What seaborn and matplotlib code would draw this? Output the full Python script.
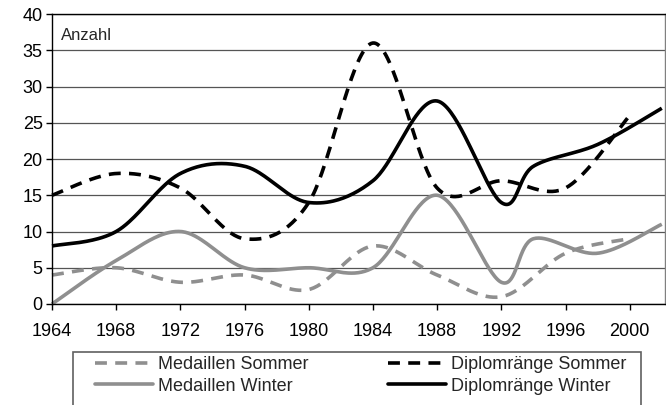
import numpy as np
import pandas as pd
import matplotlib
matplotlib.use("Agg")
import matplotlib.pyplot as plt
import seaborn as sns
from matplotlib.lines import Line2D
from matplotlib.patches import Rectangle

# ---- data (values at Olympic years) ----
summer_years = [1964, 1968, 1972, 1976, 1980, 1984, 1988, 1992, 1996, 2000]
winter_years = [1964, 1968, 1972, 1976, 1980, 1984, 1988, 1992, 1994, 1998, 2002]
medaillen_sommer = [4, 5, 3, 4, 2, 8, 4, 1, 7, 9]
diplom_sommer = [15, 18, 16, 9, 14, 36, 16, 17, 16, 26]
medaillen_winter = [0, 6, 10, 5, 5, 5, 15, 3, 9, 7, 11]
diplom_winter = [8, 10, 18, 19, 14, 17, 28, 14, 19, 22, 27]

x_ticks = list(range(1964, 2001, 4))
y_ticks = list(range(0, 41, 5))
labels = ["Medaillen Sommer", "Medaillen Winter", "Diplomränge Sommer", "Diplomränge Winter"]


def smooth(xs, ys, n=40):
    """Excel-style smoothed line (uniform Catmull-Rom / Bezier)."""
    P = np.column_stack([xs, ys]).astype(float)
    P = np.vstack([P[0], P, P[-1]])
    out = []
    t = np.linspace(0, 1, n)
    for i in range(1, len(P) - 2):
        p0, p1, p2, p3 = P[i - 1], P[i], P[i + 1], P[i + 2]
        c1 = p1 + (p2 - p0) / 6
        c2 = p2 - (p3 - p1) / 6
        seg = ((1 - t) ** 3)[:, None] * p1 + (3 * (1 - t) ** 2 * t)[:, None] * c1 \
            + (3 * (1 - t) * t ** 2)[:, None] * c2 + (t ** 3)[:, None] * p2
        out.append(seg if i == 1 else seg[1:])
    a = np.vstack(out)
    return a[:, 0], a[:, 1]


sns.set_style("white")
plt.rcParams["font.family"] = ["Liberation Sans", "DejaVu Sans"]

W, H = 666, 405
fig = plt.figure(figsize=(W / 100, H / 100), dpi=100)
ax = fig.add_axes([52 / W, 1 - 304 / H, 613 / W, 290 / H])

GREY = "#8f8f8f"
LW = 2.6
dash = (3.3, 2.3)

series = [
    (summer_years, medaillen_sommer, GREY, (0, dash)),
    (winter_years, medaillen_winter, GREY, "-"),
    (summer_years, diplom_sommer, "black", (0, dash)),
    (winter_years, diplom_winter, "black", "-"),
]

for xs, ys, col, ls in series:
    sx, sy = smooth(xs, ys)
    df = pd.DataFrame({"x": sx, "y": sy})
    sns.lineplot(data=df, x="x", y="y", ax=ax, color=col, lw=LW, linestyle=ls,
                 estimator=None, sort=False, legend=False, solid_capstyle="butt",
                 dash_capstyle="butt", clip_on=False)

ax.set_xlim(1964, 2002.2)
ax.set_ylim(0, 40)
ax.set_xticks(x_ticks)
ax.set_xticklabels([str(v) for v in x_ticks])
ax.set_yticks(y_ticks)
ax.set_xlabel("")
ax.set_ylabel("")
ax.yaxis.grid(True, color="#555555", lw=0.9)
ax.xaxis.grid(False)
ax.set_axisbelow(True)
ax.tick_params(axis="both", which="major", bottom=True, left=True, direction="out",
               length=4.5, width=1, color="black", labelsize=13, labelcolor="black")
ax.tick_params(axis="x", pad=9)
ax.tick_params(axis="y", pad=2.2)
for s in ["left", "bottom", "top"]:
    ax.spines[s].set_color("black")
    ax.spines[s].set_linewidth(1)
ax.spines["right"].set_color("#808080")
ax.spines["right"].set_linewidth(1)

fig.text(61 / W, 1 - 36 / H, "Anzahl", fontsize=12, ha="left", va="center")

# legend
handles = [
    Line2D([], [], color=GREY, lw=LW, linestyle=(0, dash), dash_capstyle="butt"),
    Line2D([], [], color=GREY, lw=LW),
    Line2D([], [], color="black", lw=LW, linestyle=(0, dash), dash_capstyle="butt"),
    Line2D([], [], color="black", lw=LW),
]
fig.patches.append(Rectangle((73 / W, -0.1), 568 / W, 0.1 + (405 - 352) / H,
                             transform=fig.transFigure, fill=False,
                             ec="#606060", lw=1.2))
leg = fig.legend(handles, labels, loc="upper left", ncol=2,
                 bbox_to_anchor=(95 / W, 1 - 356 / H), frameon=False,
                 fontsize=13, borderpad=0, borderaxespad=0,
                 handlelength=3.2, handletextpad=0.3, columnspacing=4.4,
                 labelspacing=0.25)

fig.savefig("out.png", dpi=100)
